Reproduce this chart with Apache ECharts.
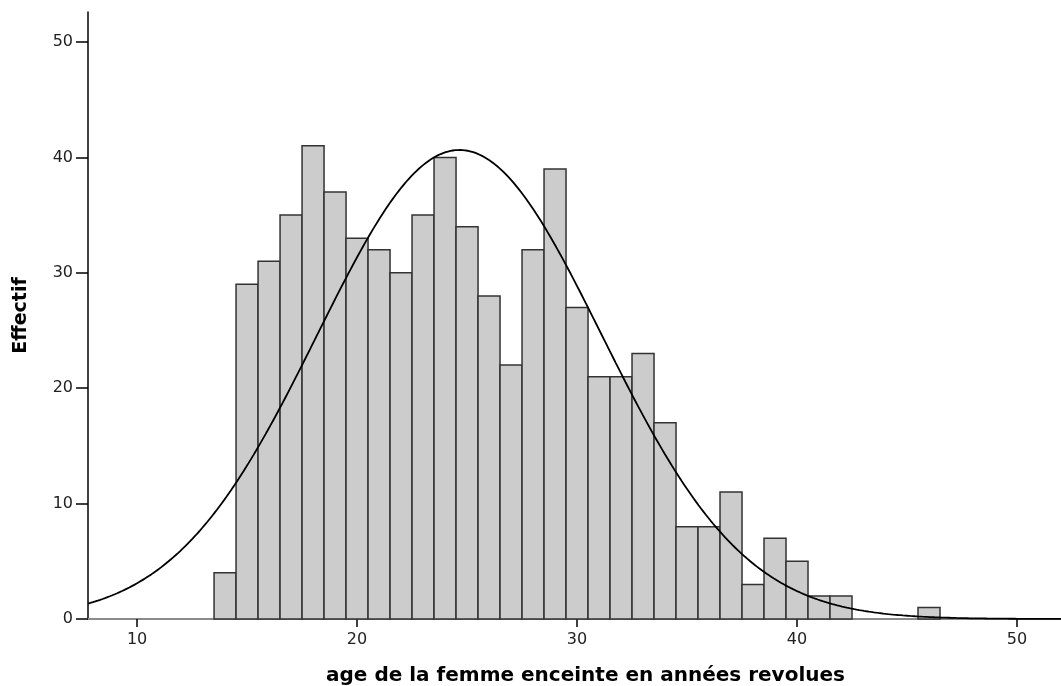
<!DOCTYPE html>
<html>
<head>
<meta charset="utf-8">
<script src="https://cdn.jsdelivr.net/npm/echarts@6/dist/echarts.min.js"></script>
<style>
html,body{margin:0;padding:0;background:#fff;overflow:hidden;}
#chart{width:1061px;height:686px;}
</style>
</head>
<body>
<div id="chart"></div>
<script>
// Data (age in completed years, count per year)
var ages   = [14,15,16,17,18,19,20,21,22,23,24,25,26,27,28,29,30,31,32,33,34,35,36,37,38,39,40,41,42,46];
var counts = [4,29,31,35,41,37,33,32,30,35,40,34,28,22,32,39,27,21,21,23,17,8,8,11,3,7,5,2,2,1];
var xTicks = [10,20,30,40,50];
var yTicks = [0,10,20,30,40,50];
var xTitle = "age de la femme enceinte en années revolues";
var yTitle = "Effectif";

var X_MIN = 7.77, X_MAX = 52.0, Y_MAX = 52.6;

// Normal curve fitted to the data (mean, sd from the counts), scaled to N * binWidth
var N = 0, s = 0, s2 = 0;
for (var i = 0; i < ages.length; i++) { N += counts[i]; s += ages[i]*counts[i]; }
var mean = s / N;
for (var i = 0; i < ages.length; i++) { s2 += counts[i]*Math.pow(ages[i]-mean,2); }
var sd = Math.sqrt(s2/(N-1));
var curve = [];
for (var k = 0; k <= 400; k++) {
  var x = X_MIN + (X_MAX - X_MIN) * k / 400;
  var y = N / (sd*Math.sqrt(2*Math.PI)) * Math.exp(-0.5*Math.pow((x-mean)/sd,2));
  curve.push([x, y]);
}
var barData = ages.map(function(a, i){ return [a, counts[i]]; });

var chart = echarts.init(document.getElementById('chart'), null, {renderer:'canvas', width:1061, height:686});
var font = 'DejaVu Sans';
chart.setOption({
  animation: false,
  backgroundColor: '#ffffff',
  grid: {left: 88, right: 0, top: 12, bottom: 67, containLabel: false, outerBoundsMode: 'none'},
  xAxis: [{
    type: 'value', min: X_MIN, max: X_MAX,
    name: xTitle, nameLocation: 'middle', nameGap: 47,
    nameTextStyle: {fontFamily: font, fontWeight: 'bold', fontSize: 20, color: '#000', padding: [0,0,0,22]},
    splitLine: {show: false},
    axisLine: {show: true, onZero: false, lineStyle: {color: '#000', width: 1.5}},
    axisTick: {show: true, length: 8, lineStyle: {color: '#000', width: 1.5}, customValues: xTicks},
    axisLabel: {customValues: xTicks, margin: 13, fontFamily: font, fontSize: 16, color: '#222'}
  },{
    type: 'value', position: 'top', min: X_MIN, max: X_MAX,
    splitLine: {show: false},
    axisLine: {show: true, lineStyle: {color: '#8a8a8a', width: 2}},
    axisTick: {show: false}, axisLabel: {show: false}
  }],
  yAxis: {
    type: 'value', min: 0, max: Y_MAX,
    name: yTitle, nameLocation: 'middle', nameGap: 57, nameRotate: 90,
    nameTextStyle: {fontFamily: font, fontWeight: 'bold', fontSize: 19, color: '#000'},
    splitLine: {show: false},
    axisLine: {show: true, lineStyle: {color: '#000', width: 1.5}},
    axisTick: {show: true, length: 12, lineStyle: {color: '#000', width: 1.5}, customValues: yTicks},
    axisLabel: {customValues: yTicks, margin: 15, fontFamily: font, fontSize: 16, color: '#222'}
  },
  series: [{
    type: 'custom',
    data: barData,
    renderItem: function(params, api){
      var x = api.value(0), y = api.value(1);
      var p0 = api.coord([x - 0.5, y]);
      var p1 = api.coord([x + 0.5, 0]);
      return {
        type: 'rect',
        shape: {x: p0[0], y: p0[1], width: p1[0]-p0[0], height: p1[1]-p0[1]},
        style: {fill: '#cccccc', stroke: '#333333', lineWidth: 1.5}
      };
    },
    z: 2
  },{
    type: 'line',
    data: curve,
    showSymbol: false,
    smooth: false,
    lineStyle: {color: '#000', width: 1.8},
    z: 3
  }]
});
</script>
</body>
</html>
